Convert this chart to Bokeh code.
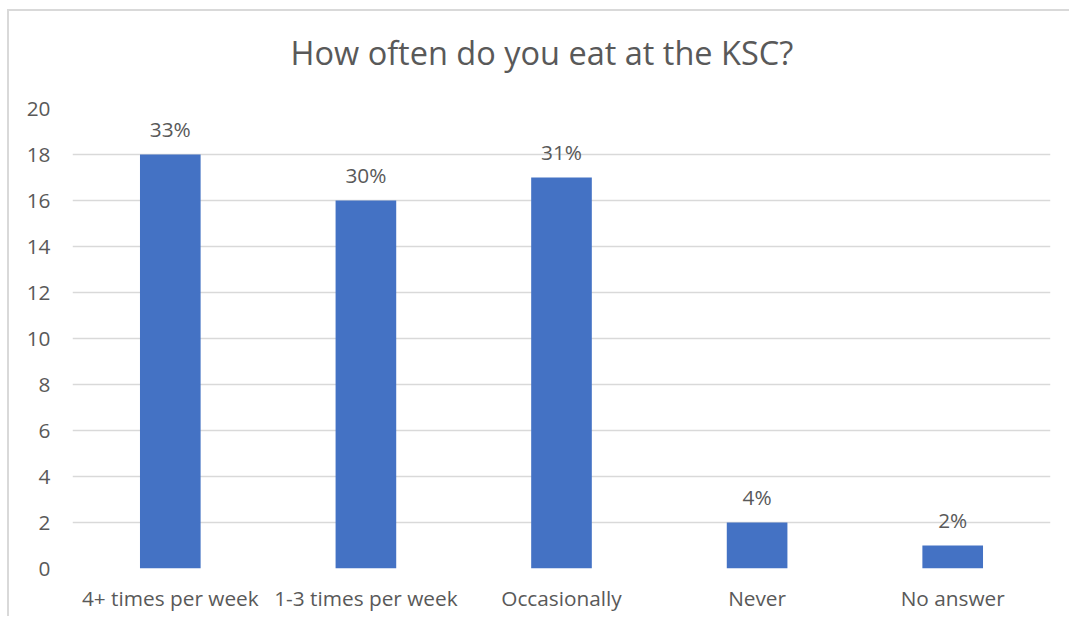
from bokeh.plotting import figure
from bokeh.models import ColumnDataSource, Title
from bokeh.core.properties import value
from bokeh.embed import file_html
from bokeh.resources import INLINE

categories = ["4+ times per week", "1-3 times per week", "Occasionally", "Never", "No answer"]
counts = [18, 16, 17, 2, 1]
pct_labels = ["33%", "30%", "31%", "4%", "2%"]
y_ticks = [0, 2, 4, 6, 8, 10, 12, 14, 16, 18, 20]
title_text = "How often do you eat at the KSC?"

FONT = "Open Sans"
TXT = "#595959"
GRID = "#d9d9d9"
BAR = "#4472C4"

src = ColumnDataSource(dict(cat=categories, n=counts, lab=pct_labels))

p = figure(x_range=categories, y_range=(0, 20), width=1062, height=607,
           output_backend="svg", toolbar_location=None,
           min_border_left=63, min_border_right=21, min_border_top=97, min_border_bottom=50)
p.title = None
# invisible spacer panel between the frame and the title
p.add_layout(Title(text=" ", text_font_size="1px", standoff=31, text_color="white"), "above")
p.add_layout(Title(text=title_text, align="left", offset=218,
                   text_font=FONT, text_font_size="32.5px", text_font_style="normal",
                   text_color=TXT, standoff=0), "above")

p.vbar(x="cat", top="n", width=0.31, source=src, fill_color=BAR, line_color=None)
p.text(x="cat", y="n", text="lab", source=src, y_offset=-12,
       text_align="center", text_baseline="bottom",
       text_font=value(FONT), text_font_size="20.8px", text_color=TXT)

p.outline_line_color = None
p.xgrid.grid_line_color = None
p.ygrid.grid_line_color = GRID
p.ygrid.grid_line_width = 1.5
p.yaxis.ticker = y_ticks
for ax in (p.xaxis, p.yaxis):
    ax.axis_line_color = None
    ax.major_tick_line_color = None
    ax.minor_tick_line_color = None
    ax.major_tick_out = 0
    ax.minor_tick_out = 0
    ax.major_tick_in = 0
    ax.major_label_text_font = FONT
    ax.major_label_text_font_size = "20.8px"
    ax.major_label_text_color = TXT
p.yaxis.major_label_standoff = 22
p.xaxis.major_label_standoff = 15
p.x_range.range_padding = 0
p.background_fill_color = "white"
p.border_fill_color = "white"
p.styles = {"margin-left": "7px", "margin-top": "9px",
            "border-style": "solid none none solid",
            "border-width": "2px 0px 0px 2px",
            "border-color": "#d9d9d9"}

open("out.html", "w").write(file_html(p, INLINE))
